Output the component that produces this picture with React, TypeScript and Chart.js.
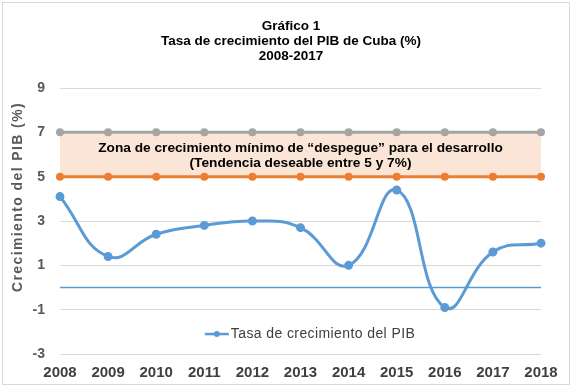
import React, { useEffect, useRef } from "react";
import { Chart, registerables } from "chart.js";

Chart.register(...registerables);

const years = ["2008", "2009", "2010", "2011", "2012", "2013", "2014", "2015", "2016", "2017", "2018"];
const gdpGrowth = [4.1, 1.4, 2.4, 2.8, 3.0, 2.7, 1.0, 4.4, -0.9, 1.6, 2.0];
const upperBound = [7, 7, 7, 7, 7, 7, 7, 7, 7, 7, 7];
const lowerBound = [5, 5, 5, 5, 5, 5, 5, 5, 5, 5, 5];
const zeroLine = [0, 0, 0, 0, 0, 0, 0, 0, 0, 0, 0];
const titleLines = ["Gráfico 1", "Tasa de crecimiento del PIB de Cuba (%)", "2008-2017"];
const bandLines = [
  "Zona de crecimiento mínimo de “despegue” para el desarrollo",
  "(Tendencia deseable entre 5 y 7%)",
];
const yAxisTitle = "Crecimiento del PIB (%)";
const legendLabel = "Tasa de crecimiento del PIB";

const FONT = "'Liberation Sans', Arial, sans-serif";
const BLUE = "#5B9BD5";
const ORANGE = "#ED7D31";
const GRAY = "#A5A5A5";
const BAND = "#FBE5D6";

const decorPlugin = {
  id: "decor",
  beforeDraw(chart: any) {
    const ctx = chart.ctx;
    ctx.save();
    ctx.fillStyle = "#ffffff";
    ctx.fillRect(0, 0, chart.width, chart.height);
    ctx.strokeStyle = "#D9D9D9";
    ctx.lineWidth = 1;
    ctx.strokeRect(2.5, 2.5, chart.width - 5, chart.height - 4);
    ctx.restore();
  },
  afterDraw(chart: any) {
    const ctx = chart.ctx;
    const { y } = chart.scales;
    const area = chart.chartArea;
    ctx.save();
    // title
    ctx.fillStyle = "#000000";
    ctx.font = `bold 13.5px ${FONT}`;
    ctx.textAlign = "center";
    ctx.textBaseline = "middle";
    const cx = 291;
    titleLines.forEach((t, i) => ctx.fillText(t, cx, 26 + i * 15));
    // band text
    ctx.font = `bold 13.7px ${FONT}`;
    const midX = (area.left + area.right) / 2;
    ctx.fillText(bandLines[0], midX, y.getPixelForValue(6.27));
    ctx.fillText(bandLines[1], midX, y.getPixelForValue(5.6));
    // y axis title
    ctx.save();
    ctx.translate(18, 197);
    ctx.rotate(-Math.PI / 2);
    ctx.fillStyle = "#595959";
    ctx.font = `bold 14px ${FONT}`;
    (ctx as any).letterSpacing = "1.4px";
    ctx.fillText(yAxisTitle, 0, 0);
    ctx.restore();
    // legend
    ctx.font = `14px ${FONT}`;
    (ctx as any).letterSpacing = "0.4px";
    const ly = y.getPixelForValue(-2.1);
    const tw = ctx.measureText(legendLabel).width;
    const total = 24 + 3 + tw;
    const lx = midX - total / 2 + 10;
    ctx.strokeStyle = BLUE;
    ctx.lineWidth = 2.5;
    ctx.beginPath();
    ctx.moveTo(lx, ly);
    ctx.lineTo(lx + 24, ly);
    ctx.stroke();
    ctx.fillStyle = BLUE;
    ctx.beginPath();
    ctx.arc(lx + 12, ly, 3, 0, Math.PI * 2);
    ctx.fill();
    ctx.fillStyle = "#404040";
    ctx.textAlign = "left";
    ctx.fillText(legendLabel, lx + 26, ly);
    ctx.restore();
  },
};

export default function App() {
  const ref = useRef<HTMLCanvasElement>(null);
  useEffect(() => {
    document.body.style.margin = "0";
    const chart = new Chart(ref.current as HTMLCanvasElement, {
      type: "line",
      data: {
        labels: years,
        datasets: [
          {
            label: "Superior",
            data: upperBound,
            borderColor: GRAY,
            backgroundColor: BAND,
            pointBackgroundColor: GRAY,
            pointBorderColor: GRAY,
            pointRadius: 2.5,
            borderWidth: 3,
            fill: "+1",
            order: 2,
          },
          {
            label: "Inferior",
            data: lowerBound,
            borderColor: ORANGE,
            pointBackgroundColor: ORANGE,
            pointBorderColor: ORANGE,
            pointRadius: 2.5,
            borderWidth: 3,
            fill: false,
            order: 1,
          },
          {
            label: "Cero",
            data: zeroLine,
            borderColor: BLUE,
            borderWidth: 1.5,
            pointRadius: 0,
            fill: false,
            order: 3,
          },
          {
            label: legendLabel,
            data: gdpGrowth,
            borderColor: BLUE,
            pointBackgroundColor: BLUE,
            pointBorderColor: BLUE,
            pointRadius: 3,
            borderWidth: 3,
            tension: 0.45,
            fill: false,
            order: 0,
          },
        ],
      },
      options: {
        responsive: false,
        animation: false,
        layout: { padding: { top: 88, left: 0, right: 31, bottom: 0 } },
        plugins: {
          legend: { display: false },
          title: { display: false },
          tooltip: { enabled: false },
        },
        scales: {
          x: {
            offset: false,
            grid: { display: false, drawTicks: false },
            border: { display: false },
            ticks: {
              padding: 10,
              color: "#404040",
              font: { family: FONT, size: 15, weight: "bold" },
              maxRotation: 0,
              autoSkip: false,
            },
            afterFit(scale: any) {
              scale.height = 32;
            },
          },
          y: {
            min: -3,
            max: 9,
            ticks: {
              stepSize: 2,
              padding: 15,
              color: "#595959",
              font: { family: FONT, size: 14, weight: "bold" },
            },
            grid: { color: "#D9D9D9", drawTicks: false, lineWidth: 1 },
            border: { display: false },
            afterFit(scale: any) {
              scale.width = 60;
            },
          },
        },
      },
      plugins: [decorPlugin],
    } as any);
    return () => chart.destroy();
  }, []);
  return (
    <div style={{ position: "absolute", left: 0, top: 0, width: 572, height: 386 }}>
      <canvas ref={ref} width={572} height={386} />
    </div>
  );
}
